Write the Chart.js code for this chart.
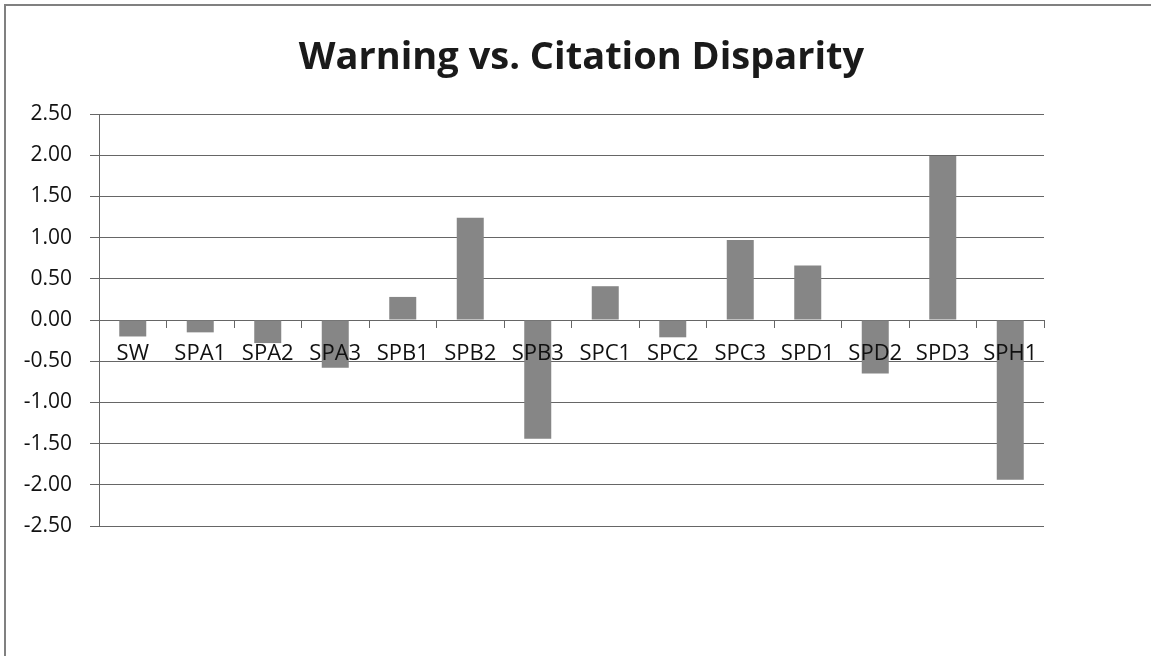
<!DOCTYPE html>
<html>
<head>
<meta charset="utf-8">
<title>Warning vs. Citation Disparity</title>
<script src="https://cdn.jsdelivr.net/npm/chart.js@4/dist/chart.umd.min.js"></script>
<style>
  html, body { margin: 0; padding: 0; background: #fff; }
  #wrap { position: relative; width: 1151px; height: 656px; }
  canvas { display: block; }
</style>
</head>
<body>
<div id="wrap"><canvas id="chart" width="1151" height="656"></canvas></div>
<script>
// Stations along the x axis
const categories = ['SW', 'SPA1', 'SPA2', 'SPA3', 'SPB1', 'SPB2', 'SPB3',
                    'SPC1', 'SPC2', 'SPC3', 'SPD1', 'SPD2', 'SPD3', 'SPH1'];

// Warning vs. citation disparity per station
const disparity = [-0.20, -0.15, -0.28, -0.58, 0.28, 1.24, -1.44,
                   0.41, -0.21, 0.97, 0.66, -0.65, 1.99, -1.94];

// Value axis range and step
const yMin = -2.5;
const yMax = 2.5;
const yStep = 0.5;

const chartTitle = 'Warning vs. Citation Disparity';

const gridColor = '#666666';
const textColor = '#111111';
const barColor = '#868686';

// Outer frame and the chart title
const framePlugin = {
  id: 'frameAndTitle',
  beforeDraw(chart) {
    const ctx = chart.ctx;
    ctx.save();
    ctx.fillStyle = '#ffffff';
    ctx.fillRect(0, 0, chart.width, chart.height);
    ctx.strokeStyle = '#808080';
    ctx.lineWidth = 2;
    ctx.beginPath();
    ctx.moveTo(5, chart.height);
    ctx.lineTo(5, 5);
    ctx.lineTo(chart.width, 5);
    ctx.stroke();
    ctx.restore();
  },
  afterDraw(chart) {
    const ctx = chart.ctx;
    ctx.save();
    ctx.font = 'bold 38px "Open Sans", sans-serif';
    ctx.fillStyle = '#1a1a1a';
    ctx.textAlign = 'center';
    ctx.textBaseline = 'alphabetic';
    ctx.fillText(chartTitle, 581.5, 69);
    ctx.restore();
  }
};

new Chart(document.getElementById('chart'), {
  type: 'bar',
  data: {
    labels: categories,
    datasets: [{
      data: disparity,
      backgroundColor: barColor,
      borderWidth: 0,
      categoryPercentage: 1.0,
      barPercentage: 0.4
    }]
  },
  options: {
    responsive: false,
    animation: false,
    events: [],
    layout: { padding: { top: 114, bottom: 130, left: 0, right: 107 } },
    plugins: {
      legend: { display: false },
      tooltip: { enabled: false },
      title: { display: false }
    },
    scales: {
      x: {
        position: { y: 0 },
        offset: true,
        grid: {
          offset: true,
          drawOnChartArea: false,
          drawTicks: true,
          tickLength: 7,
          color: gridColor,
          lineWidth: 1
        },
        border: { display: true, color: gridColor, width: 1 },
        ticks: {
          z: 1,
          padding: 14,
          maxRotation: 0,
          autoSkip: false,
          color: textColor,
          font: { family: '"Open Sans", sans-serif', size: 22 }
        }
      },
      y: {
        min: yMin,
        max: yMax,
        afterFit(scale) { scale.width = 99; },
        grid: {
          color: gridColor,
          lineWidth: 1,
          drawTicks: true,
          tickLength: 9
        },
        border: { display: true, color: gridColor, width: 1 },
        ticks: {
          stepSize: yStep,
          padding: 18,
          color: textColor,
          font: { family: '"Open Sans", sans-serif', size: 21 },
          callback: (v) => (Math.abs(v) < 1e-9 ? 0 : v).toFixed(2)
        }
      }
    }
  },
  plugins: [framePlugin]
});
</script>
</body>
</html>
